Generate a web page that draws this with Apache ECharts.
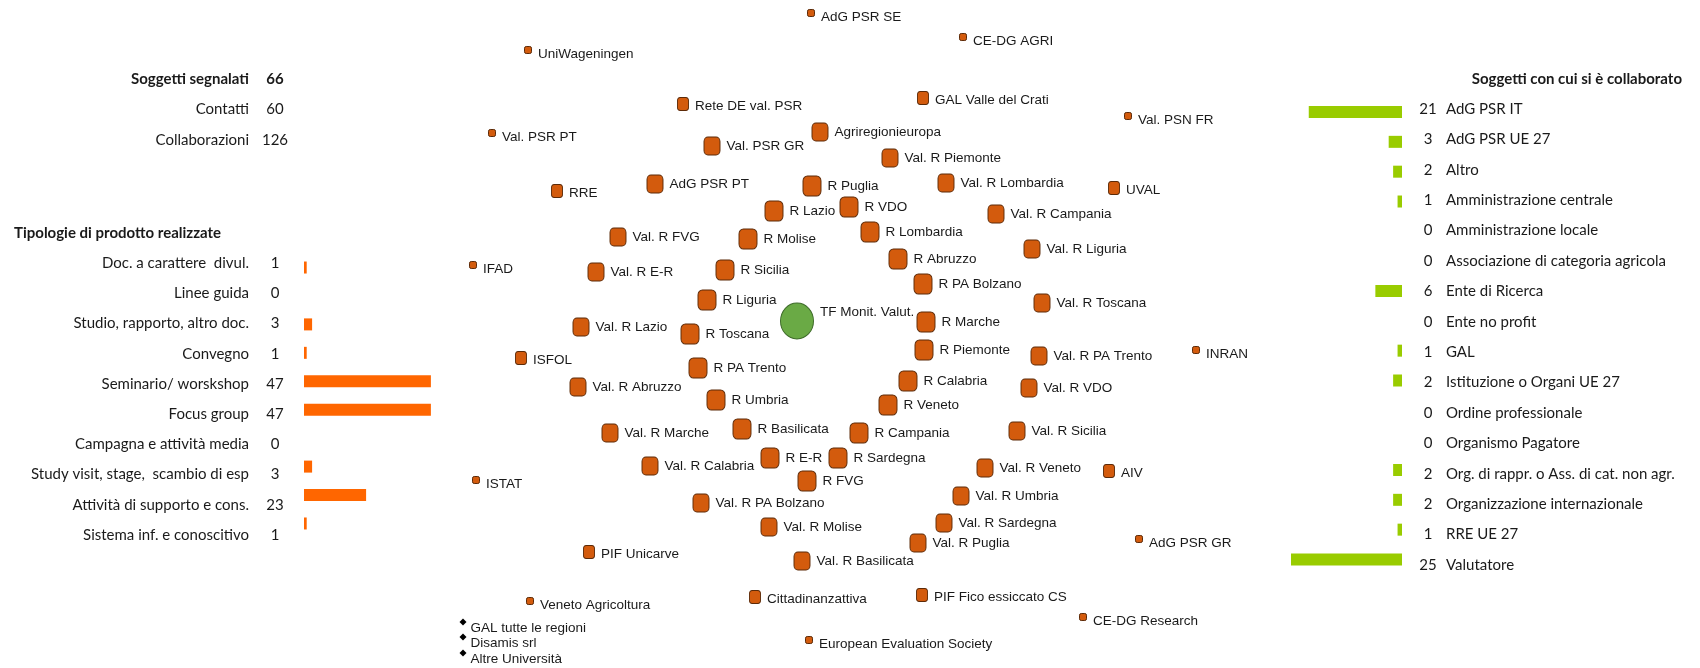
<!DOCTYPE html>
<html>
<head>
<meta charset="utf-8">
<title>Rete TF Monit. Valut.</title>
<script src="https://cdn.jsdelivr.net/npm/echarts@6/dist/echarts.min.js"></script>
<style>
  html, body { margin: 0; padding: 0; background: #fff; }
  #main { width: 1700px; height: 668px; }
</style>
</head>
<body>
<div id="main"></div>
<script>
// riepilogo in alto a sinistra
var summaryLabels = ['Soggetti segnalati', 'Contatti', 'Collaborazioni'];
var summaryValues = [66, 60, 126];

// tipologie di prodotto realizzate
var productTypes = ['Doc. a carattere  divul.', 'Linee guida', 'Studio, rapporto, altro doc.', 'Convegno',
  'Seminario/ worskshop', 'Focus group', 'Campagna e attività media', 'Study visit, stage,  scambio di esp',
  'Attività di supporto e cons.', 'Sistema inf. e conoscitivo'];
var productCounts = [1, 0, 3, 1, 47, 47, 0, 3, 23, 1];

// soggetti con cui si è collaborato
var partnerTypes = ['AdG PSR IT', 'AdG PSR UE 27', 'Altro', 'Amministrazione centrale', 'Amministrazione locale',
  'Associazione di categoria agricola', 'Ente di Ricerca', 'Ente no profit', 'GAL', 'Istituzione o Organi UE 27',
  'Ordine professionale', 'Organismo Pagatore', 'Org. di rappr. o Ass. di cat. non agr.',
  'Organizzazione internazionale', 'RRE UE 27', 'Valutatore'];
var partnerCounts = [21, 3, 2, 1, 0, 0, 6, 0, 1, 2, 0, 0, 2, 2, 1, 25];

// rete dei soggetti (layout, peso = dimensione del nodo)
var nodeNames = ['AdG PSR SE', 'CE-DG AGRI', 'UniWageningen', 'Rete DE val. PSR', 'GAL Valle del Crati',
  'Val. PSR PT', 'Agriregionieuropa', 'Val. PSR GR', 'Val. PSN FR', 'Val. R Piemonte', 'Val. R Lombardia',
  'RRE', 'AdG PSR PT', 'R Puglia', 'UVAL', 'R Lazio', 'R VDO', 'Val. R Campania', 'Val. R FVG', 'R Molise',
  'R Lombardia', 'Val. R Liguria', 'IFAD', 'Val. R E-R', 'R Sicilia', 'R Abruzzo', 'R PA Bolzano', 'R Liguria',
  'Val. R Toscana', 'Val. R Lazio', 'R Toscana', 'R Marche', 'R Piemonte', 'Val. R PA Trento', 'INRAN',
  'ISFOL', 'R PA Trento', 'Val. R Abruzzo', 'R Calabria', 'Val. R VDO', 'R Umbria', 'R Veneto',
  'Val. R Marche', 'R Basilicata', 'R Campania', 'Val. R Sicilia', 'Val. R Calabria', 'R E-R', 'R Sardegna',
  'R FVG', 'Val. R Veneto', 'AIV', 'ISTAT', 'Val. R PA Bolzano', 'Val. R Umbria', 'Val. R Molise',
  'Val. R Sardegna', 'Val. R Puglia', 'PIF Unicarve', 'Val. R Basilicata', 'AdG PSR GR', 'Cittadinanzattiva',
  'PIF Fico essiccato CS', 'Veneto Agricoltura', 'CE-DG Research', 'European Evaluation Society'];
var nodeX = [811, 963, 528, 683, 923, 492, 820, 712, 1128, 890, 946, 557, 655, 812, 1114, 774, 849, 996, 618, 748,
  870, 1032, 473, 596, 725, 898, 923, 707, 1042, 581, 690, 926, 924, 1039, 1196, 521, 698, 578, 908, 1029,
  716, 888, 610, 742, 859, 1017, 650, 770, 838, 807, 985, 1109, 476, 701, 961, 769, 944, 918, 589, 802,
  1139, 755, 922, 530, 1083, 809];
var nodeY = [13, 37, 50, 104, 98, 133, 132, 146, 116, 158, 183, 191, 184, 186, 188, 211, 207, 214, 237, 239,
  232, 249, 265, 272, 270, 259, 284, 300, 303, 327, 334, 322, 350, 356, 350, 358, 368, 387, 381, 388,
  400, 405, 433, 429, 433, 431, 466, 458, 458, 481, 468, 471, 480, 503, 496, 527, 523, 543, 552, 561,
  539, 597, 595, 601, 617, 640];
var nodeWeight = [1, 1, 1, 2, 2, 1, 3, 3, 1, 3, 3, 2, 3, 4, 2, 4, 4, 3, 3, 4,
  4, 3, 1, 3, 4, 4, 4, 4, 3, 3, 4, 4, 4, 3, 1, 2, 4, 3, 4, 3,
  4, 4, 3, 4, 4, 3, 3, 4, 4, 4, 3, 2, 1, 3, 3, 3, 3, 3, 2, 3,
  1, 2, 2, 1, 1, 1];

var hubName = ['TF Monit. Valut.'];
var hubX = [797];
var hubY = [321];

var extraNames = ['GAL tutte le regioni', 'Disamis srl', 'Altre Università'];
var extraX = [463, 463, 463];
var extraY = [622, 637, 653];

var chart = echarts.init(document.getElementById('main'));

var sideFont = "'Liberation Sans Narrow', 'Lato', sans-serif";
var sideSize = 15;
var netFont = "'Liberation Sans', Arial, sans-serif";
var netSize = 13.5;
var ink = '#1a1a1a';

var sizeByWeight = { 1: [7, 7], 2: [11, 13], 3: [16, 18], 4: [18, 20] };
var shiftByWeight = { 1: 4, 2: 2, 3: 0, 4: 0 };

var nodes = nodeNames.map(function (n, i) {
  var w = nodeWeight[i];
  return {
    name: n,
    value: [nodeX[i], nodeY[i]],
    symbolSize: sizeByWeight[w],
    label: { offset: [0, shiftByWeight[w]] }
  };
});

var texts = [];
summaryLabels.forEach(function (s, i) {
  var y = 79 + i * 30.5;
  var weight = i === 0 ? 'bold' : 'normal';
  texts.push({
    type: 'text', x: 249, y: y, silent: true,
    style: { text: s, fill: ink, fontSize: sideSize, fontWeight: weight, fontFamily: sideFont,
      textAlign: 'right', textVerticalAlign: 'middle' }
  });
  texts.push({
    type: 'text', x: 275, y: y, silent: true,
    style: { text: String(summaryValues[i]), fill: ink, fontSize: sideSize, fontWeight: weight, fontFamily: sideFont,
      textAlign: 'center', textVerticalAlign: 'middle' }
  });
});
texts.push({
  type: 'text', x: 14, y: 233, silent: true,
  style: { text: 'Tipologie di prodotto realizzate', fill: ink, fontSize: sideSize, fontWeight: 'bold',
    fontFamily: sideFont, textAlign: 'left', textVerticalAlign: 'middle' }
});
texts.push({
  type: 'text', x: 1682, y: 79, silent: true,
  style: { text: 'Soggetti con cui si è collaborato', fill: ink, fontSize: sideSize, fontWeight: 'bold',
    fontFamily: sideFont, textAlign: 'right', textVerticalAlign: 'middle' }
});

var option = {
  backgroundColor: '#ffffff',
  animation: false,
  graphic: texts,
  grid: [
    { left: 304, top: 248, width: 135, height: 302 },
    { left: 304, top: 253.3, width: 135, height: 284.4 },
    { left: 1268.8, top: 93.8, width: 133.2, height: 486.4 },
    { left: 1268.8, top: 97.1, width: 133.2, height: 477.3 },
    { left: 0, top: 0, right: 0, bottom: 0 }
  ],
  xAxis: [
    { gridIndex: 0, type: 'value', min: 0, max: 50, show: false },
    { gridIndex: 1, type: 'value', min: 0, max: 50, show: false },
    { gridIndex: 2, type: 'value', min: 0, max: 30, inverse: true, show: false },
    { gridIndex: 3, type: 'value', min: 0, max: 30, inverse: true, show: false },
    { gridIndex: 4, type: 'value', min: 0, max: 1700, show: false }
  ],
  yAxis: [
    {
      gridIndex: 0, type: 'category', data: productTypes, inverse: true,
      axisLine: { show: false }, axisTick: { show: false }, splitLine: { show: false },
      axisLabel: {
        interval: 0, margin: 3,
        formatter: function (v, i) { return '{n|' + v + '}{v|' + productCounts[i] + '}'; },
        rich: {
          n: { fontSize: sideSize, fontFamily: sideFont, color: ink },
          v: { width: 52, align: 'center', fontSize: sideSize, fontFamily: sideFont, color: ink }
        }
      }
    },
    { gridIndex: 1, type: 'category', data: productTypes, inverse: true, show: false },
    {
      gridIndex: 2, type: 'category', data: partnerTypes, inverse: true, position: 'right',
      axisLine: { show: false }, axisTick: { show: false }, splitLine: { show: false },
      axisLabel: {
        interval: 0, margin: 8,
        formatter: function (v, i) { return '{v|' + partnerCounts[i] + '}{n|' + v + '}'; },
        rich: {
          v: { width: 36, align: 'center', fontSize: sideSize, fontFamily: sideFont, color: ink },
          n: { fontSize: sideSize, fontFamily: sideFont, color: ink }
        }
      }
    },
    { gridIndex: 3, type: 'category', data: partnerTypes, inverse: true, show: false },
    { gridIndex: 4, type: 'value', min: 0, max: 668, inverse: true, show: false }
  ],
  series: [
    {
      type: 'bar', xAxisIndex: 1, yAxisIndex: 1, data: productCounts, barWidth: 12, silent: true,
      itemStyle: { color: '#ff6600' }
    },
    {
      type: 'bar', xAxisIndex: 3, yAxisIndex: 3, data: partnerCounts, barWidth: 12, silent: true,
      itemStyle: { color: '#99cc00' }
    },
    {
      type: 'scatter', xAxisIndex: 4, yAxisIndex: 4, symbol: 'roundRect', data: nodes, silent: true,
      itemStyle: { color: '#d35b0d', borderColor: '#5c2a08', borderWidth: 1, opacity: 1 },
      label: {
        show: true, position: 'right', distance: 6, formatter: '{b}',
        fontSize: netSize, fontFamily: netFont, color: ink
      }
    },
    {
      type: 'scatter', xAxisIndex: 4, yAxisIndex: 4, symbol: 'circle', symbolSize: [33, 36], silent: true,
      data: hubName.map(function (n, i) { return { name: n, value: [hubX[i], hubY[i]] }; }),
      itemStyle: { color: '#6aaa45', borderColor: '#3e6b2a', borderWidth: 1, opacity: 1 },
      label: {
        show: true, position: 'right', distance: 6, offset: [0, -9], formatter: '{b}',
        fontSize: netSize, fontFamily: netFont, color: ink
      }
    },
    {
      type: 'scatter', xAxisIndex: 4, yAxisIndex: 4, symbol: 'diamond', symbolSize: 7, silent: true,
      data: extraNames.map(function (n, i) { return { name: n, value: [extraX[i], extraY[i]] }; }),
      itemStyle: { color: '#000000', opacity: 1 },
      label: {
        show: true, position: 'right', distance: 4, offset: [0, 6], formatter: '{b}',
        fontSize: netSize, fontFamily: netFont, color: ink
      }
    }
  ]
};

chart.setOption(option);
</script>
</body>
</html>
